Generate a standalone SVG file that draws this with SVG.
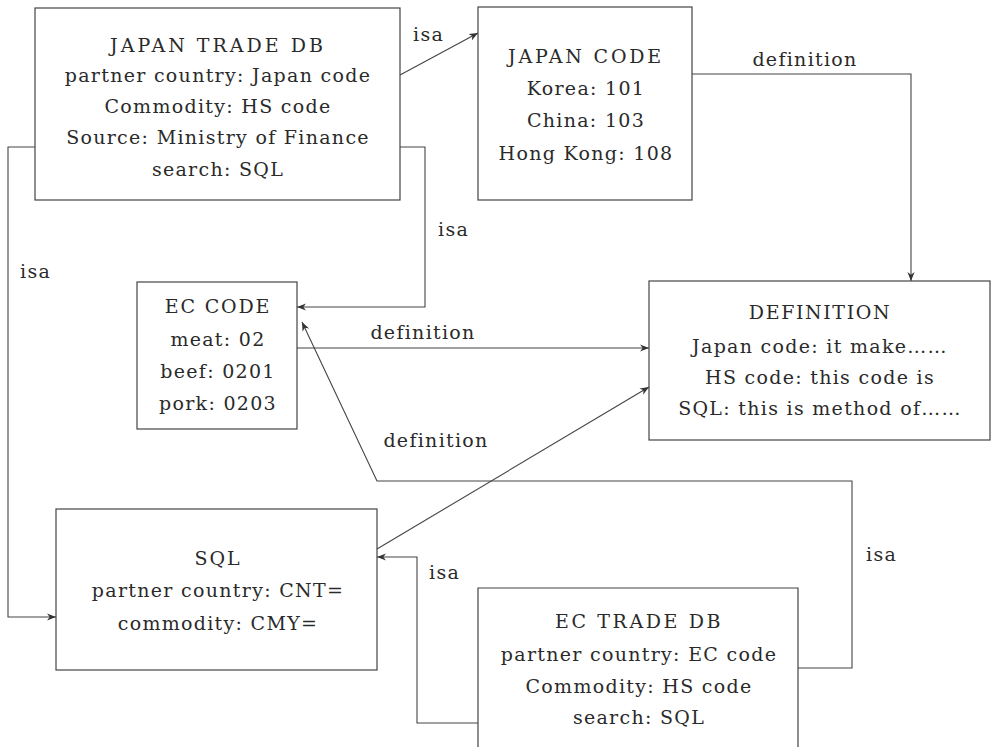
<svg xmlns="http://www.w3.org/2000/svg" width="991" height="747" viewBox="0 0 991 747">
<style>
.box{fill:none;stroke:#444;stroke-width:1.2}
.ln{fill:none;stroke:#444;stroke-width:1.1}
text{font-family:"DejaVu Serif","Liberation Serif",serif;font-size:19px;fill:#2a2a2a;text-anchor:middle;letter-spacing:1.3px}
.lbl{text-anchor:start}
</style>
<defs>
<marker id="arr" viewBox="0 0 10 10" refX="10" refY="5" markerWidth="9" markerHeight="9" markerUnits="userSpaceOnUse" orient="auto">
<path d="M0,1 L10,5 L0,9 L3,5 Z" fill="#333"/>
</marker>
</defs>
<rect width="991" height="747" fill="#fff"/>
<g id="connectors">
<path class="ln" d="M400,75 L478,33" marker-end="url(#arr)"/>
<text class="lbl" x="413" y="41">isa</text>
<path class="ln" d="M692,74 H911 V281" marker-end="url(#arr)"/>
<text x="805" y="66">definition</text>
<path class="ln" d="M35,147 H8 V617 H56" marker-end="url(#arr)"/>
<text class="lbl" x="20" y="278">isa</text>
<path class="ln" d="M400,147 H425 V307 H297" marker-end="url(#arr)"/>
<text class="lbl" x="438" y="236">isa</text>
<path class="ln" d="M297,348 H649" marker-end="url(#arr)"/>
<text x="423" y="339">definition</text>
<path class="ln" d="M798,668 H852 V481 H377 L302,322" marker-end="url(#arr)"/>
<text class="lbl" x="866" y="561">isa</text>
<path class="ln" d="M377,549 L649,387" marker-end="url(#arr)"/>
<text x="436" y="447">definition</text>
<path class="ln" d="M478,723 H417 V557 H377" marker-end="url(#arr)"/>
<text class="lbl" x="429" y="579">isa</text>
</g>
<g id="japan-trade-db">
<rect class="box" x="35" y="8" width="365" height="192"/>
<text x="218" y="52" style="letter-spacing:3px">JAPAN TRADE DB</text>
<text x="218" y="82">partner country: Japan code</text>
<text x="218" y="113">Commodity: HS code</text>
<text x="218" y="144">Source: Ministry of Finance</text>
<text x="218" y="176">search: SQL</text>
</g>
<g id="japan-code">
<rect class="box" x="478" y="7" width="214" height="193"/>
<text x="586" y="63" style="letter-spacing:2.8px">JAPAN CODE</text>
<text x="586" y="95">Korea: 101</text>
<text x="586" y="127">China: 103</text>
<text x="586" y="160">Hong Kong: 108</text>
</g>
<g id="ec-code">
<rect class="box" x="137" y="282" width="160" height="147"/>
<text x="218" y="313" style="letter-spacing:1.8px">EC CODE</text>
<text x="218" y="346">meat: 02</text>
<text x="218" y="378">beef: 0201</text>
<text x="218" y="410">pork: 0203</text>
</g>
<g id="definition">
<rect class="box" x="649" y="281" width="341" height="159"/>
<text x="820" y="319" style="letter-spacing:1.6px">DEFINITION</text>
<text x="820" y="353">Japan code: it make……</text>
<text x="820" y="384">HS code: this code is</text>
<text x="820" y="415">SQL: this is method of……</text>
</g>
<g id="sql">
<rect class="box" x="56" y="509" width="321" height="161"/>
<text x="218" y="565" style="letter-spacing:2px">SQL</text>
<text x="218" y="597">partner country: CNT=</text>
<text x="218" y="630">commodity: CMY=</text>
</g>
<g id="ec-trade-db">
<path class="box" d="M478,747 V588 H798 V747"/>
<text x="639" y="628" style="letter-spacing:2.6px">EC TRADE DB</text>
<text x="639" y="661">partner country: EC code</text>
<text x="639" y="693">Commodity: HS code</text>
<text x="639" y="724">search: SQL</text>
</g>
</svg>
